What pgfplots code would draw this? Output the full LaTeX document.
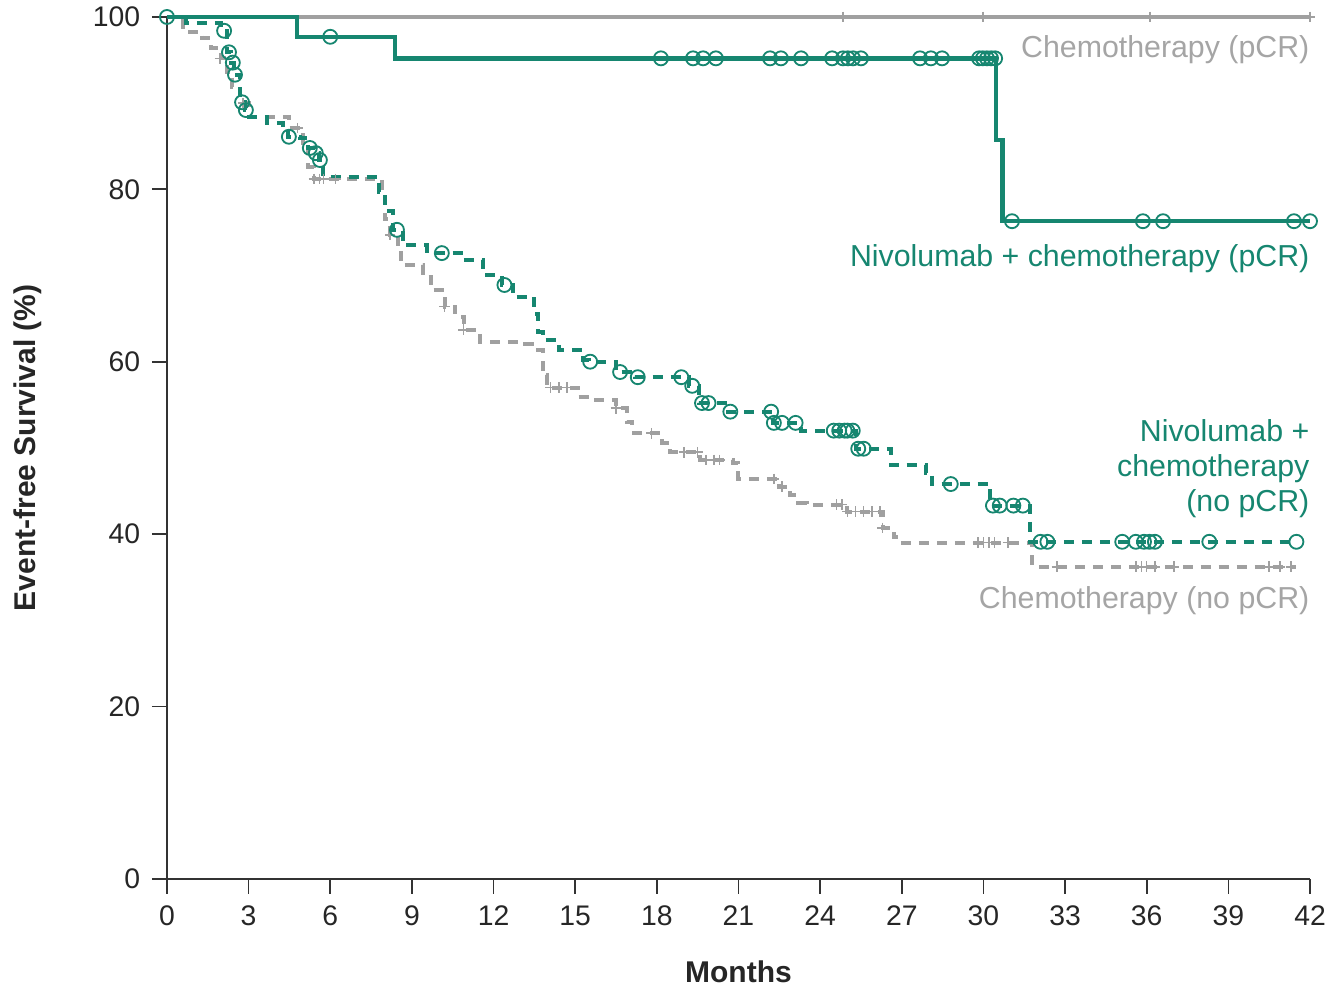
\documentclass[border=0pt]{standalone}
\usepackage{fontspec}
\setmainfont{Liberation Sans}
\usepackage{pgfplots}
\pgfplotsset{compat=1.18}
\definecolor{nivo}{RGB}{22,134,112}
\definecolor{chemo}{RGB}{160,160,160}
\definecolor{chemotxt}{RGB}{165,165,165}

\begin{document}
\begin{tikzpicture}
\begin{axis}[
  scale only axis,
  width=343pt, height=258.6pt,
  xmin=0, xmax=42, ymin=0, ymax=100,
  xtick={0,3,...,42}, ytick={0,20,...,100},
  axis x line*=bottom, axis y line*=left,
  axis line style={black!80, line width=0.5pt},
  tick align=outside, major tick length=4.5pt,
  tick style={black!80, line width=0.5pt},
  clip=false,
  /pgf/number format/assume math mode=true,
  tick label style={font=\fontsize{8.5}{10}\selectfont, text=black!85},
  xlabel={\textbf{Months}},
  ylabel={\textbf{Event-free Survival (\%)}},
  label style={font=\fontsize{9}{11}\selectfont, text=black!85},
  xlabel style={at={(axis description cs:0.5,-0.108)}, anchor=center},
  ylabel style={at={(axis description cs:-0.1216,0.5)}, anchor=center},
]
% Chemotherapy (pCR)
\addplot[chemo, line width=1pt, const plot] coordinates {(0,100) (42,100)};
\addplot[only marks, mark=+, mark size=1.6pt, chemo, mark options={line width=0.4pt}]
  coordinates {(24.84,100) (29.98,100) (36.12,100) (42,100)};

% Chemotherapy (no pCR)
\addplot[chemo, line width=1.2pt, const plot, dash pattern=on 3pt off 2.4pt] coordinates {
(0,100) (0.6,98.3) (1.3,97.6) (1.6,96.4) (2.0,95.2) (2.2,93.6) (2.4,91.9) (2.7,90.0)
(3.0,88.4) (4.5,87.1) (5.0,85.4) (5.2,82.6) (5.4,81.2) (7.9,79.7) (8.0,76.5) (8.2,74.7)
(8.5,73.3) (8.6,71.2) (9.4,69.8) (9.7,68.3) (10.2,66.4) (10.6,65.2) (10.9,63.7) (11.5,62.3)
(13.0,62.0) (13.4,61.4) (13.8,58.4) (13.95,57.0) (15.1,55.9) (15.6,55.6) (16.5,54.6) (16.9,53.0)
(17.1,51.7) (18.2,50.6) (18.5,49.5) (19.6,48.6) (20.8,48.3) (21.0,46.4) (22.5,45.5) (22.9,44.5)
(23.2,43.6) (23.5,43.4) (25.0,42.6) (26.3,40.7) (26.7,39.6) (26.9,39.0) (31.8,36.2) (41.5,36.2)};
\addplot[only marks, mark=+, mark size=1.6pt, chemo, mark options={line width=0.45pt}] coordinates {
(1.95,95.2) (2.8,90.0) (4.8,87.1) (5.4,81.2) (5.6,81.2) (5.75,81.2) (6.2,81.2) (8.2,74.7)
(10.2,66.4) (10.9,63.7) (14.1,57.0) (14.4,57.0) (14.7,57.0) (16.5,54.6) (17.8,51.7) (19.0,49.5)
(19.5,49.5) (19.8,48.6) (20.1,48.6) (20.3,48.6) (22.3,46.4) (22.6,45.5) (24.6,43.4) (24.8,43.4)
(25.0,42.6) (25.3,42.6) (25.6,42.6) (25.9,42.6) (26.2,42.6) (26.3,40.7) (29.8,39.0) (30.0,39.0)
(30.2,39.0) (30.4,39.0) (30.9,39.0) (32.7,36.2) (35.6,36.2) (35.8,36.2) (36.0,36.2) (36.3,36.2)
(37.0,36.2) (40.5,36.2) (40.9,36.2) (41.3,36.2)};

% Nivolumab + chemotherapy (no pCR)
\addplot[nivo, line width=1.2pt, const plot, dash pattern=on 3pt off 2.4pt] coordinates {
(0,100) (0.7,99.3) (2.0,98.4) (2.2,95.9) (2.35,94.7) (2.45,93.3) (2.7,90.1) (2.85,89.2)
(3.0,88.4) (3.67,87.7) (4.26,87.1) (4.45,86.1) (4.9,85.9) (5.2,84.8) (5.45,84.2) (5.6,83.4)
(5.75,81.4) (7.8,79.7) (8.0,77.5) (8.3,75.3) (8.67,73.5) (9.55,72.6) (10.9,71.8) (11.6,70.1)
(12.3,68.9) (12.7,67.5) (13.5,65.5) (13.65,63.5) (13.8,62.5) (14.4,61.4) (15.3,60.2) (15.5,60.0)
(16.5,58.8) (17.2,58.2) (19.2,57.2) (19.55,55.2) (20.5,54.2) (22.25,52.9) (23.3,52.0) (25.3,49.9)
(26.6,48.0) (27.9,47.1) (28.1,45.8) (30.25,43.3) (31.7,39.1) (41.5,39.1)};
\addplot[only marks, mark=o, mark size=2.1pt, nivo, mark options={line width=0.55pt}] coordinates {
(2.1,98.4) (2.28,95.9) (2.42,94.7) (2.5,93.3) (2.76,90.1) (2.9,89.2) (4.48,86.1) (5.25,84.8)
(5.47,84.2) (5.62,83.4) (8.45,75.3) (10.1,72.6) (12.4,68.9) (15.55,60.0) (16.65,58.8) (17.3,58.2)
(18.9,58.2) (19.3,57.2) (19.66,55.2) (19.9,55.2) (20.7,54.2) (22.2,54.2) (22.3,52.9) (22.6,52.9)
(23.1,52.9) (24.5,52.0) (24.7,52.0) (24.9,52.0) (25.0,52.0) (25.2,52.0) (25.4,49.9) (25.6,49.9)
(28.8,45.8) (30.35,43.3) (30.6,43.3) (31.1,43.3) (31.45,43.3) (32.1,39.1) (32.35,39.1) (35.1,39.1)
(35.6,39.1) (35.9,39.1) (36.1,39.1) (36.3,39.1) (38.3,39.1) (41.5,39.1)};

% Nivolumab + chemotherapy (pCR)
\addplot[nivo, line width=1.3pt, const plot] coordinates {
(0,100) (4.78,97.7) (8.38,95.2) (30.46,85.7) (30.7,76.3) (42,76.3)};
\addplot[only marks, mark=o, mark size=2.1pt, nivo, mark options={line width=0.55pt}] coordinates {
(0,100) (6.0,97.7) (18.15,95.2) (19.33,95.2) (19.70,95.2) (20.17,95.2) (22.16,95.2) (22.56,95.2)
(23.30,95.2) (24.44,95.2) (24.84,95.2) (25.02,95.2) (25.21,95.2) (25.50,95.2) (27.67,95.2)
(28.07,95.2) (28.48,95.2) (29.84,95.2) (29.98,95.2) (30.13,95.2) (30.28,95.2) (30.43,95.2)
(31.05,76.3) (35.86,76.3) (36.60,76.3) (41.41,76.3) (42.0,76.3)};

\begin{scope}[font=\fontsize{9.1}{11}\selectfont, inner sep=0pt]
\node[anchor=east, text=chemotxt] at (axis cs:42,96.2) {Chemotherapy (pCR)};
\node[anchor=east, text=nivo] at (axis cs:42,72.0) {Nivolumab + chemotherapy (pCR)};
\node[anchor=east, text=nivo, align=right] at (axis cs:42,47.6)
  {Nivolumab +\\[-0.5pt] chemotherapy\\[-0.5pt] (no pCR)};
\node[anchor=east, text=chemotxt] at (axis cs:42,32.3) {Chemotherapy (no pCR)};
\end{scope}
\end{axis}
\pgfresetboundingbox
\path[use as bounding box] (current axis.south west) ++(-50.1pt,-32.4pt) rectangle ([xshift=5.7pt,yshift=5.1pt]current axis.north east);
\end{tikzpicture}
\end{document}
